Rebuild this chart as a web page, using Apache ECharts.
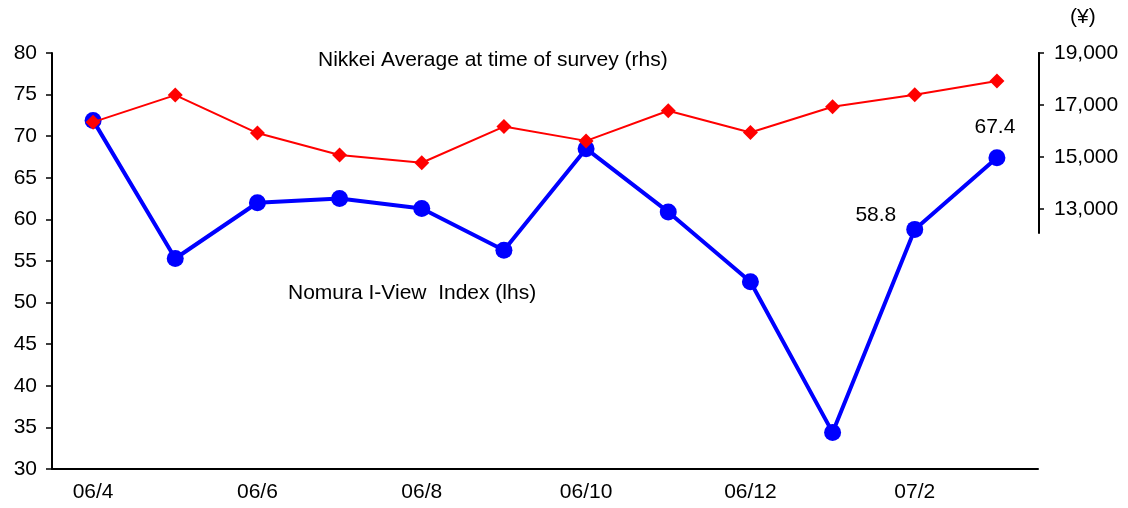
<!DOCTYPE html>
<html>
<head>
<meta charset="utf-8">
<script src="https://cdn.jsdelivr.net/npm/echarts@6/dist/echarts.min.js"></script>
<style>
html,body{margin:0;padding:0;background:#fff;}
#chart{width:1128px;height:508px;}
</style>
</head>
<body>
<div id="chart"></div>
<script>
const categories = ['06/4','06/5','06/6','06/7','06/8','06/9','06/10','06/11','06/12','07/1','07/2','07/3'];
const nomuraIndex = [71.9, 55.3, 62.0, 62.5, 61.3, 56.3, 68.5, 60.9, 52.5, 34.4, 58.8, 67.4];
const nikkeiAvg = [16340, 17380, 15920, 15080, 14780, 16170, 15620, 16780, 15940, 16930, 17390, 17920];
const rightTicks = [13000, 15000, 17000, 19000];

const FONT = 'Liberation Sans, Arial, sans-serif';
const FS = 21;
const chart = echarts.init(document.getElementById('chart'));

const nomuraData = nomuraIndex.map((v, i) => {
  const c = categories[i];
  if (c === '07/2') {
    return {value: v, label: {show: true, position: 'left', distance: 10, offset: [0, -14]}};
  }
  if (c === '07/3') {
    return {value: v, label: {show: true, position: 'top', distance: 12, offset: [-2, 0]}};
  }
  return v;
});

chart.setOption({
  animation: false,
  backgroundColor: '#fff',
  textStyle: {fontFamily: FONT, color: '#000'},
  grid: [
    {left: 52, right: 90, top: 53, bottom: 39},
    {left: 52, right: 89, top: 53, height: 180}
  ],
  xAxis: [
    {
      type: 'category', gridIndex: 0, data: categories, boundaryGap: true,
      axisLine: {lineStyle: {color: '#000', width: 2}},
      axisTick: {inside: true, length: 6, interval: 0, lineStyle: {color: '#000', width: 1.5}},
      axisLabel: {interval: 1, color: '#000', fontSize: FS, fontFamily: FONT, margin: 13},
      splitLine: {show: false}
    },
    {type: 'category', gridIndex: 1, data: categories, show: false}
  ],
  yAxis: [
    {
      type: 'value', gridIndex: 0, position: 'left', min: 30, max: 80, interval: 5,
      axisLine: {show: true, lineStyle: {color: '#000', width: 2}},
      axisTick: {show: true, inside: false, length: 6, lineStyle: {color: '#000', width: 1.5}},
      axisLabel: {color: '#000', fontSize: FS, fontFamily: FONT, margin: 15},
      splitLine: {show: false}
    },
    {
      type: 'value', gridIndex: 0, position: 'right', min: 3000, max: 19000, interval: 2000,
      name: '(¥)', nameLocation: 'end', nameGap: 25,
      nameTextStyle: {color: '#000', fontSize: FS, fontFamily: FONT, align: 'left', padding: [0, 0, 0, 32]},
      axisLine: {show: false},
      axisTick: {show: true, inside: false, length: 6, customValues: rightTicks, lineStyle: {color: '#000', width: 1.5}},
      axisLabel: {color: '#000', fontSize: FS, fontFamily: FONT, margin: 16, customValues: rightTicks,
        formatter: v => v.toLocaleString('en-US')},
      splitLine: {show: false}
    },
    {
      type: 'value', gridIndex: 1, position: 'right', min: 0, max: 1,
      axisLine: {show: true, lineStyle: {color: '#000', width: 2}},
      axisTick: {show: false}, axisLabel: {show: false}, splitLine: {show: false}
    }
  ],
  graphic: [
    {type: 'text', left: 318, top: 50, style: {text: 'Nikkei Average at time of survey (rhs)', fill: '#000', font: FS + 'px ' + FONT}},
    {type: 'text', left: 288, top: 283, style: {text: 'Nomura I-View  Index (lhs)', fill: '#000', font: FS + 'px ' + FONT}}
  ],
  series: [
    {
      name: 'Nomura I-View Index (lhs)', type: 'line', xAxisIndex: 0, yAxisIndex: 0,
      data: nomuraData, z: 2,
      symbol: 'circle', symbolSize: 17,
      itemStyle: {color: '#0000FF'},
      lineStyle: {color: '#0000FF', width: 4},
      label: {show: false, color: '#000', fontSize: FS, fontFamily: FONT}
    },
    {
      name: 'Nikkei Average at time of survey (rhs)', type: 'line', xAxisIndex: 0, yAxisIndex: 1,
      data: nikkeiAvg, z: 3,
      symbol: 'diamond', symbolSize: 15,
      itemStyle: {color: '#FF0000'},
      lineStyle: {color: '#FF0000', width: 2}
    }
  ]
});
</script>
</body>
</html>
